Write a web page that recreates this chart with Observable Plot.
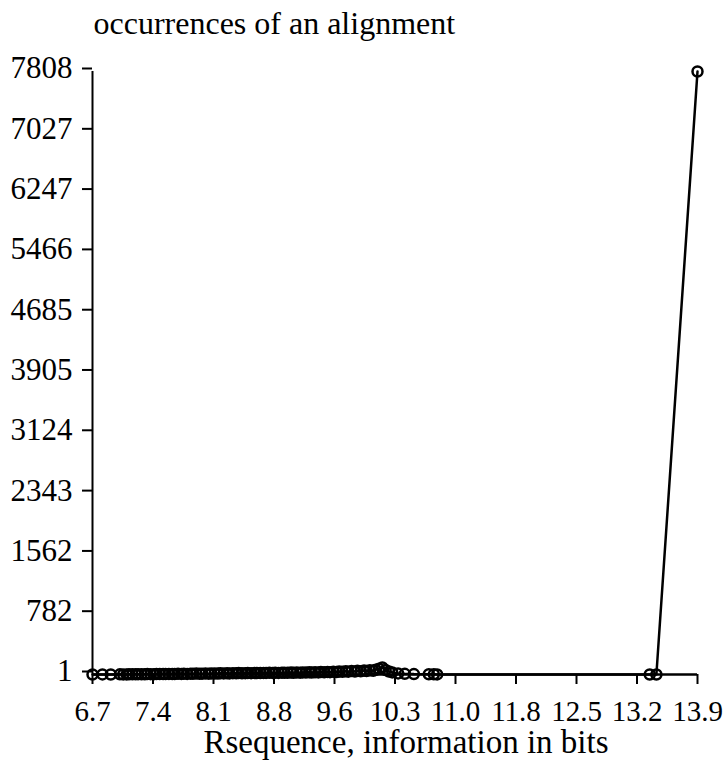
<!DOCTYPE html>
<html>
<head>
<meta charset="utf-8">
<script src="https://cdn.jsdelivr.net/npm/d3@7"></script>
<script src="https://cdn.jsdelivr.net/npm/@observablehq/plot@0.6"></script>
<style>
  html, body { margin: 0; padding: 0; background: #fff; }
</style>
</head>
<body>
<div id="chart"></div>
<script>
// Rsequence (bits) of each alignment and how often it occurs
const rsequence = [
  6.66, 6.78, 6.88, 6.99, 7.03, 7.07, 7.10, 7.14, 7.18, 7.21, 7.25, 7.29, 7.32, 7.36, 7.40, 7.43, 7.47,
  7.51, 7.54, 7.58, 7.62, 7.65, 7.69, 7.73, 7.76, 7.80, 7.84, 7.87, 7.91, 7.95, 7.98,
  8.02, 8.06, 8.09, 8.13, 8.17, 8.20, 8.24, 8.28, 8.31, 8.35, 8.39, 8.42, 8.46, 8.50,
  8.53, 8.57, 8.61, 8.64, 8.68, 8.72, 8.75, 8.79, 8.83, 8.86, 8.90, 8.94, 8.97, 9.01,
  9.05, 9.08, 9.12, 9.16, 9.19, 9.23, 9.27, 9.30, 9.34, 9.38, 9.41, 9.45, 9.49, 9.52,
  9.56, 9.60, 9.63, 9.67, 9.71, 9.74, 9.78, 9.82, 9.85, 9.89, 9.93, 9.96, 10.00, 10.04,
  10.07, 10.11, 10.15, 10.19, 10.23, 10.27, 10.34, 10.42, 10.53, 10.71, 10.77, 10.81, 13.37, 13.45, 13.945
];
const occurrences = [
  1, 2, 1, 3, 2, 2, 4, 3, 3, 5, 4, 4, 6, 5, 5, 7, 6,
  8, 6, 9, 7, 8, 10, 9, 11, 9, 12, 10, 13, 11, 12,
  14, 12, 15, 13, 14, 16, 15, 17, 15, 18, 16, 19, 17, 18,
  20, 18, 21, 19, 20, 22, 21, 23, 21, 24, 22, 25, 23, 24,
  26, 24, 27, 25, 28, 26, 29, 27, 30, 28, 32, 29, 34, 31,
  36, 33, 39, 35, 42, 38, 45, 40, 48, 43, 52, 46, 56, 50,
  62, 75, 92, 58, 40, 28, 15, 10, 6, 4, 3, 2, 1, 1, 7808
];

const xDomain = [6.66, 13.945];
const yDomain = [1, 7808];
const xTickLabels = ["6.7", "7.4", "8.1", "8.8", "9.6", "10.3", "11.0", "11.8", "12.5", "13.2", "13.9"];
const yTickLabels = ["1", "782", "1562", "2343", "3124", "3905", "4685", "5466", "6247", "7027", "7808"];
const titleText = "occurrences of an alignment";
const xLabelText = "Rsequence, information in bits";

const data = rsequence.map((r, i) => ({r, n: occurrences[i]}));
const xTicks = xTickLabels.map((_, i) => xDomain[0] + i * (xDomain[1] - xDomain[0]) / (xTickLabels.length - 1));
const yTicks = yTickLabels.map(Number);

const chart = Plot.plot({
  width: 727,
  height: 765,
  marginLeft: 92,
  marginRight: 30,
  marginTop: 71,
  marginBottom: 91,
  style: {fontFamily: "'Liberation Serif', 'Times New Roman', serif", fontSize: "30px", color: "#000", background: "#fff"},
  x: {domain: xDomain},
  y: {domain: yDomain},
  marks: [
    Plot.ruleX([xDomain[0]], {y1: yDomain[0], y2: yDomain[1], stroke: "#000", strokeWidth: 2}),
    Plot.ruleY([yDomain[0]], {x1: xDomain[0], x2: xDomain[1], stroke: "#000", strokeWidth: 2.5}),
    Plot.axisX({ticks: xTicks, tickFormat: (d, i) => xTickLabels[i], tickSize: 10, tickPadding: 16, strokeWidth: 2, label: null, fontSize: 29}),
    Plot.axisY({ticks: yTicks, tickFormat: (d, i) => yTickLabels[i], tickSize: 10, tickPadding: 10, strokeWidth: 2, label: null, dy: -3, fontSize: 31}),
    Plot.line(data, {x: "r", y: "n", stroke: "#000", strokeWidth: 2.5}),
    Plot.dot(data, {x: "r", y: "n", r: 5, stroke: "#000", strokeWidth: 2.5, fill: "none"}),
    Plot.text([titleText], {frameAnchor: "top-left", textAnchor: "start", lineAnchor: "middle", dx: 1, dy: -48, fontSize: 32, fill: "#000"}),
    Plot.text([xLabelText], {frameAnchor: "bottom", lineAnchor: "middle", dx: 11, dy: 68, fontSize: 33, fill: "#000"})
  ]
});
document.getElementById("chart").appendChild(chart);
</script>
</body>
</html>
